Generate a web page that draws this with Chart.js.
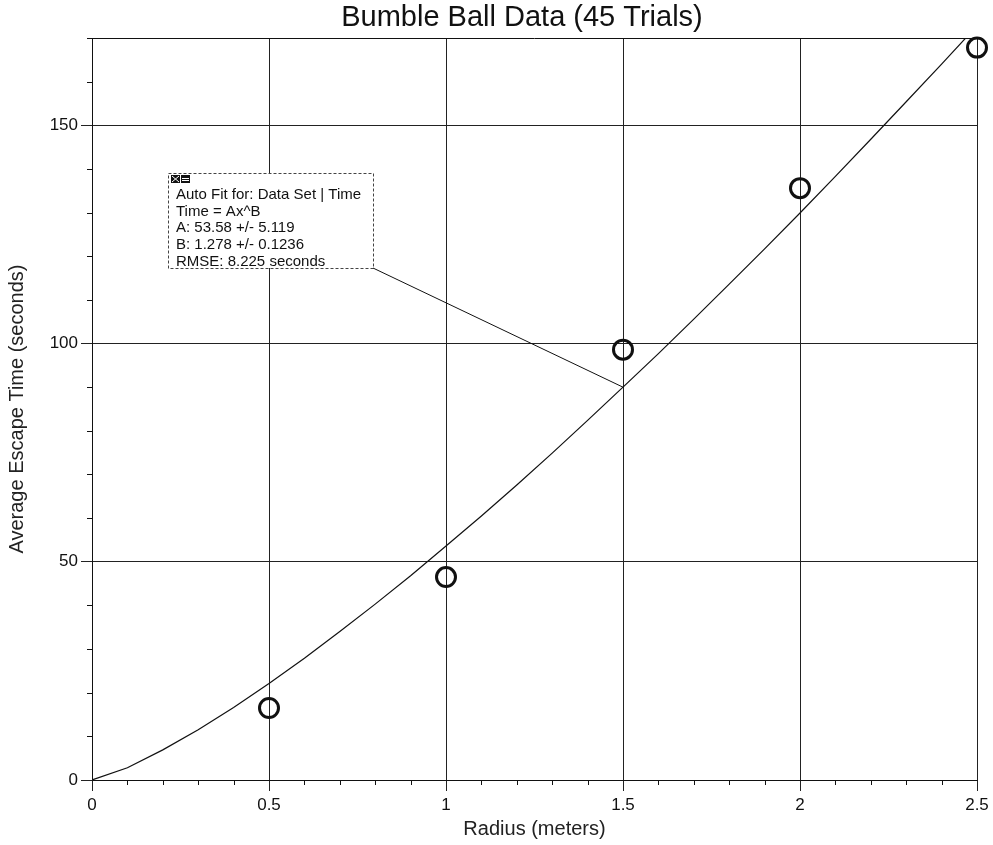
<!DOCTYPE html>
<html>
<head>
<meta charset="utf-8">
<script src="https://cdn.jsdelivr.net/npm/chart.js@4.4.1/dist/chart.umd.min.js"></script>
<style>
  html, body { margin: 0; padding: 0; background: #fff; }
  #wrap { width: 993px; height: 845px; }
</style>
</head>
<body>
<div id="wrap"><canvas id="c" width="993" height="845"></canvas></div>
<script>
// Measured trials: radius (m) vs. average escape time (s)
const radius = [0.5, 1.0, 1.5, 2.0, 2.5];
const escapeTime = [16.5, 46.5, 98.6, 135.6, 167.8];

// Power-law fit curve Time = A x^B, sampled along the radius axis
const fitRadius = [0, 0.1, 0.2, 0.3, 0.4, 0.5, 0.6, 0.7, 0.8, 0.9, 1.0, 1.1, 1.2, 1.3,
                   1.4, 1.5, 1.6, 1.7, 1.8, 1.9, 2.0, 2.1, 2.2, 2.3, 2.4, 2.5];
const fitTime = [0, 2.8, 6.9, 11.5, 16.6, 22.1, 27.9, 34.0, 40.3, 46.8, 53.6, 60.5, 67.6, 74.9,
                 82.4, 90.0, 97.7, 105.6, 113.6, 121.7, 129.9, 138.3, 146.8, 155.4, 164.0, 172.8];

const xTicks = [0, 0.5, 1, 1.5, 2, 2.5];
const yTicks = [0, 50, 100, 150];

const fitNotes = [
  'Auto Fit for: Data Set | Time',
  'Time = Ax^B',
  'A: 53.58 +/- 5.119',
  'B: 1.278 +/- 0.1236',
  'RMSE: 8.225 seconds'
];
const calloutRadius = 1.5;

const FONT = 'Arial, "Liberation Sans", sans-serif';

const decor = {
  id: 'decor',
  afterDatasetsDraw(chart) {
    const { ctx, chartArea: a, scales: { x, y } } = chart;
    ctx.save();

    // top edge of the plot frame
    ctx.strokeStyle = '#111';
    ctx.lineWidth = 1;
    const topY = Math.round(a.top) + 0.5;
    ctx.beginPath();
    ctx.moveTo(a.left, topY);
    ctx.lineTo(a.right, topY);
    ctx.stroke();

    // minor ticks
    ctx.beginPath();
    for (let i = 1; i < 25; i++) {
      if (i % 5 === 0) continue;
      const px = Math.round(x.getPixelForValue(i / 10)) + 0.5;
      ctx.moveTo(px, a.bottom);
      ctx.lineTo(px, a.bottom + 5);
    }
    for (let v = 10; v <= 170; v += 10) {
      if (v % 50 === 0) continue;
      const py = Math.round(y.getPixelForValue(v)) + 0.5;
      ctx.moveTo(a.left - 5, py);
      ctx.lineTo(a.left, py);
    }
    ctx.stroke();

    // fit annotation box
    const bx = 168, by = 173, bw = 205, bh = 95;
    ctx.fillStyle = '#fff';
    ctx.fillRect(bx, by, bw, bh);
    ctx.setLineDash([3, 2]);
    ctx.strokeStyle = '#444';
    ctx.strokeRect(bx + 0.5, by + 0.5, bw, bh);
    ctx.setLineDash([]);

    // small window icon
    ctx.fillStyle = '#111';
    ctx.fillRect(171, 175, 9, 8);
    ctx.fillRect(181, 175, 9, 8);
    ctx.strokeStyle = '#fff';
    ctx.lineWidth = 1;
    ctx.beginPath();
    ctx.moveTo(172, 176); ctx.lineTo(179, 182);
    ctx.moveTo(179, 176); ctx.lineTo(172, 182);
    ctx.moveTo(182, 178.5); ctx.lineTo(189, 178.5);
    ctx.moveTo(182, 180.5); ctx.lineTo(189, 180.5);
    ctx.stroke();

    ctx.fillStyle = '#111';
    ctx.font = '15px ' + FONT;
    ctx.textBaseline = 'middle';
    ctx.textAlign = 'left';
    fitNotes.forEach((t, i) => ctx.fillText(t, 176, 195 + i * 16.6));

    // leader from the box to the curve
    const idx = fitRadius.indexOf(calloutRadius);
    ctx.strokeStyle = '#111';
    ctx.lineWidth = 1;
    ctx.beginPath();
    ctx.moveTo(bx + bw, by + bh);
    ctx.lineTo(x.getPixelForValue(calloutRadius), y.getPixelForValue(fitTime[idx]));
    ctx.stroke();

    // title
    ctx.fillStyle = '#111';
    ctx.font = '29px ' + FONT;
    ctx.textAlign = 'center';
    ctx.textBaseline = 'alphabetic';
    ctx.fillText('Bumble Ball Data (45 Trials)', 522, 26);

    ctx.restore();
  }
};

new Chart(document.getElementById('c'), {
  type: 'scatter',
  data: {
    datasets: [
      {
        label: 'Fit',
        data: fitRadius.map((r, i) => ({ x: r, y: fitTime[i] })),
        showLine: true,
        borderColor: '#111',
        borderWidth: 1.2,
        pointRadius: 0,
        tension: 0
      },
      {
        label: 'Time',
        data: radius.map((r, i) => ({ x: r, y: escapeTime[i] })),
        showLine: false,
        pointStyle: 'circle',
        pointRadius: 9.5,
        borderWidth: 3,
        borderColor: '#111',
        backgroundColor: 'rgba(0,0,0,0)',
        clip: false
      }
    ]
  },
  options: {
    responsive: false,
    animation: false,
    layout: { padding: { left: 0, right: 16, top: 38, bottom: 0 } },
    plugins: { legend: { display: false }, tooltip: { enabled: false }, title: { display: false } },
    scales: {
      x: {
        type: 'linear',
        min: 0,
        max: 2.5,
        afterBuildTicks: s => { s.ticks = xTicks.map(v => ({ value: v })); },
        afterFit: s => { s.height = 65; },
        ticks: {
          color: '#111',
          padding: 4,
          font: { family: FONT, size: 17 },
          callback: v => String(v)
        },
        grid: { color: '#222', lineWidth: 1, tickLength: 11, tickColor: '#222' },
        border: { color: '#111', width: 1 },
        title: {
          display: true,
          text: 'Radius (meters)',
          color: '#222',
          font: { family: FONT, size: 20 },
          padding: { top: 4, bottom: 4 }
        }
      },
      y: {
        type: 'linear',
        min: 0,
        max: 170,
        afterBuildTicks: s => { s.ticks = yTicks.map(v => ({ value: v })); },
        afterFit: s => { s.width = 92; },
        ticks: {
          color: '#111',
          padding: 3,
          font: { family: FONT, size: 17 },
          callback: v => String(v)
        },
        grid: { color: '#222', lineWidth: 1, tickLength: 11, tickColor: '#222' },
        border: { color: '#111', width: 1 },
        title: {
          display: true,
          text: 'Average Escape Time (seconds)',
          color: '#222',
          font: { family: FONT, size: 20 },
          padding: { top: 5, bottom: 4 }
        }
      }
    }
  },
  plugins: [decor]
});
</script>
</body>
</html>
